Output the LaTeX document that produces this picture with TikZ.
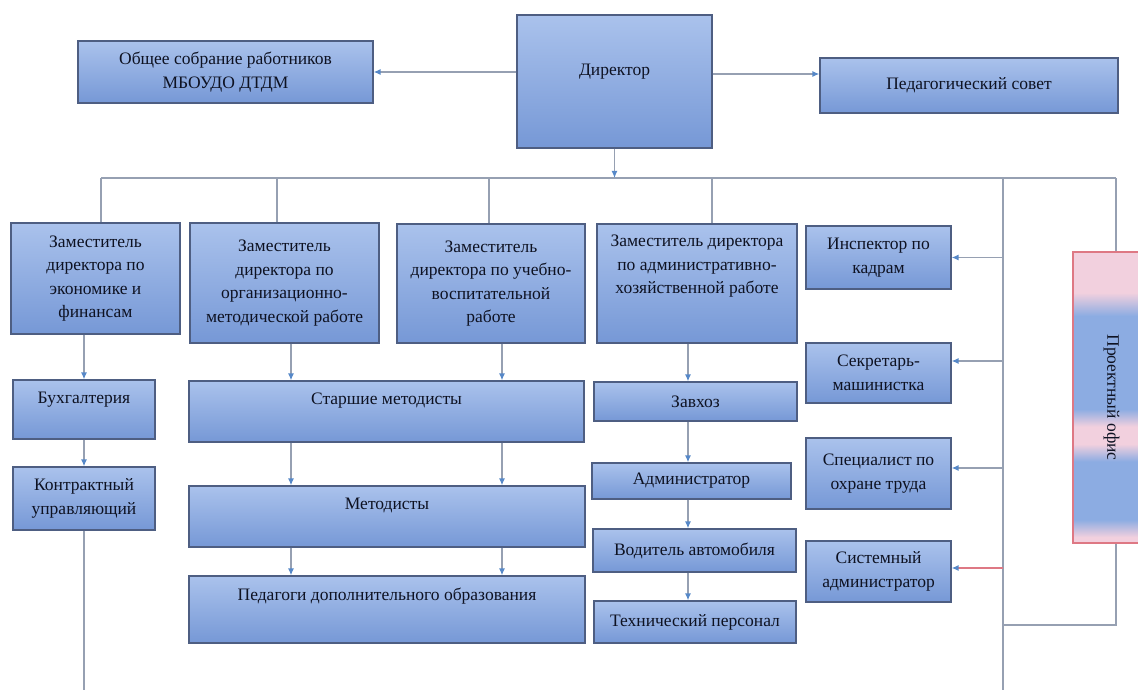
\documentclass[tikz,border=0pt]{standalone}
\usepackage{fontspec}
\setmainfont{Liberation Serif}
\newfontfamily\orgfont{Liberation Serif}
\usetikzlibrary{arrows.meta}
\definecolor{boxtop}{RGB}{170,194,236}
\definecolor{boxbot}{RGB}{118,152,214}
\definecolor{boxline}{RGB}{78,94,130}
\definecolor{wire}{RGB}{150,160,178}
\definecolor{tip}{RGB}{86,136,200}
\definecolor{txt}{RGB}{14,18,34}
\definecolor{pk}{RGB}{242,208,222}
\definecolor{bl}{RGB}{140,172,226}
\definecolor{redwire}{RGB}{222,120,132}
\pgfdeclareverticalshading{projsh}{100bp}{color(0bp)=(pk); color(26bp)=(pk); color(29bp)=(bl); color(39bp)=(bl); color(42bp)=(pk); color(45bp)=(pk); color(48bp)=(bl); color(64bp)=(bl); color(68bp)=(pk); color(100bp)=(pk)}
\begin{document}
\begin{tikzpicture}[x=1pt,y=-1pt,
  box/.style={draw=boxline, line width=1.2pt, top color=boxtop, bottom color=boxbot, align=center, text=txt, font=\orgfont\fontsize{17.5}{23.5}\selectfont, inner sep=1pt},
  sz/.style 2 args={minimum width=#1pt, minimum height=#2pt},
  up/.style={text depth=#1pt},
  ln/.style={draw=wire, line width=1.3pt},
  arr/.style={ln, -{Latex[length=7pt,width=6pt,color=tip]}}]
\clip (0,0) rectangle (1138,690);
\fill[white] (0,0) rectangle (1138,690);

\node[box, sz={295}{62}] (sobr) at (225.5,72) {Общее собрание работников\\МБОУДО ДТДМ};
\node[box, sz={195}{133}, up=23] (dir) at (614.5,81.5) {Директор};
\node[box, sz={298}{55}] (sovet) at (969,85.5) {Педагогический совет};

\node[box, sz={169}{111}] (zek) at (95.5,278.5) {Заместитель\\директора по\\экономике и\\финансам};
\node[box, sz={189}{120}] (zom) at (284.5,283) {Заместитель\\директора по\\организационно-\\методической работе};
\node[box, sz={188}{119}] (zuv) at (491,283.5) {Заместитель\\директора по учебно-\\воспитательной\\работе};
\node[box, sz={200}{119}, up=38] (zah) at (697,283.5) {Заместитель директора\\по административно-\\хозяйственной работе};

\node[box, sz={145}{63}] (insp) at (878.5,257.5) {Инспектор по\\кадрам};
\node[box, sz={145}{60}] (sekr) at (878.5,373) {Секретарь-\\машинистка};
\node[box, sz={145}{71}] (spec) at (878.5,473.5) {Специалист по\\охране труда};
\node[box, sz={145}{61}] (sys) at (878.5,571.5) {Системный\\администратор};

\node[box, sz={142}{59}, up=24] (buh) at (84,409.5) {Бухгалтерия};
\node[box, sz={142}{63}] (kontr) at (84,498.5) {Контрактный\\управляющий};

\node[box, sz={395}{61}, up=26] (stm) at (386.5,411.5) {Старшие методисты};
\node[box, sz={396}{61}, up=26] (met) at (387,516.5) {Методисты};
\node[box, sz={396}{67}, up=30] (ped) at (387,609.5) {Педагоги дополнительного образования};

\node[box, sz={203}{39}] (zavhoz) at (695.5,401.5) {Завхоз};
\node[box, sz={199}{36}] (admin) at (691.5,481) {Администратор};
\node[box, sz={203}{43}] (vod) at (694.5,550.5) {Водитель автомобиля};
\node[box, sz={202}{42}] (teh) at (695,622) {Технический персонал};

\node[box, sz={77}{291}, draw=redwire, shading=projsh] (proj) at (1111.5,397.5) {\rotatebox{-90}{Проектный офис}};

\coordinate (t1) at (101,178);
\coordinate (t2) at (277,178);
\coordinate (t3) at (489,178);
\coordinate (t4) at (712,178);
\coordinate (t5) at (1003,178);
\coordinate (t6) at (1116,178);
\coordinate (e5) at (1003,690);
\coordinate (e6) at (1003,625);
\coordinate (a1) at (291,0);
\coordinate (a2) at (502,0);
\coordinate (a3) at (688,0);

\draw[arr] (sobr.east -| dir.west) -- (sobr.east);
\draw[arr] ([yshift=11.5pt]sovet.west -| dir.east) -- ([yshift=11.5pt]sovet.west);
\draw[ln] (t1) -- (t6);
\draw[arr] (dir.south) -- (dir.south |- t1);
\draw[ln] (t1) -- (t1 |- zek.north);
\draw[ln] (t2) -- (t2 |- zom.north);
\draw[ln] (t3) -- (t3 |- zuv.north);
\draw[ln] (t4) -- (t4 |- zah.north);
\draw[ln] (t5) -- (e5);
\draw[ln] (t6) -- (t6 |- proj.north);
\draw[ln] (t6 |- proj.south) |- (e6);

\draw[arr] (insp.east -| t5) -- (insp.east);
\draw[arr] ([yshift=12pt]sekr.east -| t5) -- ([yshift=12pt]sekr.east);
\draw[arr] ([yshift=5.5pt]spec.east -| t5) -- ([yshift=5.5pt]spec.east);
\draw[arr, draw=redwire] ([yshift=3.5pt]sys.east -| t5) -- ([yshift=3.5pt]sys.east);

\draw[arr] (buh.north |- zek.south) -- (buh.north);
\draw[arr] (buh.south) -- (kontr.north);
\draw[ln] (kontr.south) -- (kontr.south |- e5);

\draw[arr] (a1 |- zom.south) -- (a1 |- stm.north);
\draw[arr] (a2 |- zuv.south) -- (a2 |- stm.north);
\foreach \a in {a1,a2} {
  \draw[arr] (\a |- stm.south) -- (\a |- met.north);
  \draw[arr] (\a |- met.south) -- (\a |- ped.north);
}

\draw[arr] (a3 |- zah.south) -- (a3 |- zavhoz.north);
\draw[arr] (a3 |- zavhoz.south) -- (a3 |- admin.north);
\draw[arr] (a3 |- admin.south) -- (a3 |- vod.north);
\draw[arr] (a3 |- vod.south) -- (a3 |- teh.north);
\end{tikzpicture}
\end{document}
